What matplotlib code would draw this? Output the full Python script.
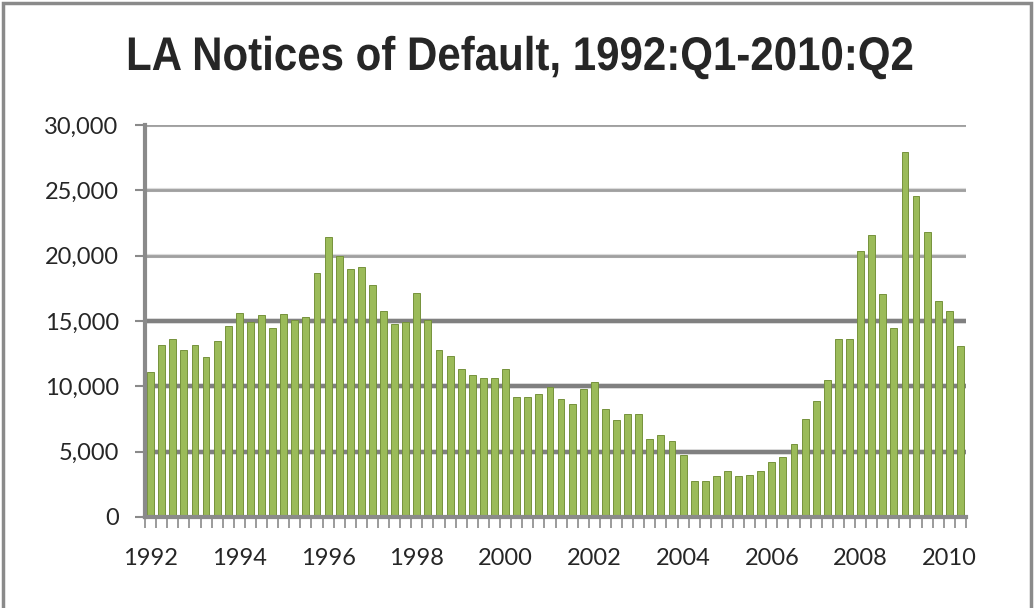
import numpy as np
import matplotlib
matplotlib.use('Agg')
import matplotlib.pyplot as plt
from matplotlib.patches import Rectangle
from matplotlib.patheffects import AbstractPathEffect
from matplotlib.transforms import Affine2D
from matplotlib.ticker import FuncFormatter, MultipleLocator

plt.rcParams['font.family'] = ['Lato', 'DejaVu Sans']

# quarterly notices of default, Los Angeles County, 1992Q1 .. 2010Q2
years = list(range(1992, 2011))
notices = [
    11100, 13150, 13650, 12800,   # 1992
    13150, 12250, 13500, 14650,   # 1993
    15650, 14950, 15450, 14500,   # 1994
    15500, 15050, 15300, 18650,   # 1995
    21400, 20000, 19000, 19150,   # 1996
    17750, 15800, 14750, 14900,   # 1997
    17150, 15100, 12750, 12300,   # 1998
    11350, 10850, 10650, 10650,   # 1999
    11350, 9150, 9150, 9400,      # 2000
    9950, 9050, 8650, 9800,       # 2001
    10300, 8250, 7450, 7850,      # 2002
    7850, 6000, 6250, 5850,       # 2003
    4750, 2750, 2750, 3150,       # 2004
    3550, 3150, 3250, 3500,       # 2005
    4200, 4600, 5600, 7500,       # 2006
    8900, 10450, 13600, 13600,    # 2007
    20350, 21550, 17050, 14450,   # 2008
    27900, 24550, 21800, 16550,   # 2009
    15800, 13050,                 # 2010
]
year_labels = [str(y) for y in years[::2]]

x = np.arange(len(notices))


class Squeeze(AbstractPathEffect):
    """narrow the glyphs horizontally around a fixed x (display px)"""
    def __init__(self, sx, cx):
        super().__init__()
        self.sx = sx
        self.cx = cx

    def draw_path(self, renderer, gc, tpath, affine, rgbFace=None):
        t = affine + Affine2D().translate(-self.cx, 0).scale(self.sx, 1).translate(self.cx, 0)
        renderer.draw_path(gc, tpath, t, rgbFace)


W, H = 1036, 608
fig = plt.figure(figsize=(W / 100, H / 100), dpi=100)
fig.patches.append(Rectangle((0.003, -0.01), 0.992, 1.005, transform=fig.transFigure,
                             fill=False, edgecolor='#8a8a8a', linewidth=2.5))

ax = fig.add_axes([0.140, 0.1497, 0.7924, 0.6447])

# gridlines drawn by hand so the lower ones can be heavier
for v in range(5000, 30001, 5000):
    c = '#808080' if v <= 15000 else '#a0a0a0'
    w = 3.0 if v <= 15000 else 2.0
    ax.axhline(v, color='#dcdcdc', lw=w + 1.0, zorder=0)
    ax.axhline(v, color=c, lw=w, zorder=1)

ax.bar(x, notices, width=0.62, color='#9bbb59', edgecolor='#76923c', linewidth=0.7, zorder=2)

ax.set_xlim(-0.5, len(notices) - 0.5)
ax.set_ylim(0, 30000)

fig.text(0.502, 1 - 70 / H, 'LA Notices of Default, 1992:Q1-2010:Q2',
         family=['Liberation Sans', 'DejaVu Sans'], fontsize=34, fontweight='bold',
         color='#262626', ha='center', va='baseline',
         path_effects=[Squeeze(0.89, 0.502 * W)])

ax.yaxis.set_major_locator(MultipleLocator(5000))
ax.yaxis.set_major_formatter(FuncFormatter(lambda v, p: f'{int(v):,}'))
ax.set_xticks(x[::8])
ax.set_xticklabels(year_labels)
ax.set_xticks(np.arange(-0.5, len(notices), 1), minor=True)

ax.tick_params(axis='y', length=7, width=1.5, color='#8a8a8a', labelsize=17, pad=12,
               labelcolor='#262626')
ax.tick_params(axis='x', which='major', length=0, labelsize=17, pad=22, labelcolor='#262626')
ax.tick_params(axis='x', which='minor', length=8, width=1.2, color='#8a8a8a')

for s in ['top', 'right']:
    ax.spines[s].set_visible(False)
for s in ['left', 'bottom']:
    ax.spines[s].set_color('#8a8a8a')
    ax.spines[s].set_linewidth(3)

fig.savefig('out.png', dpi=100)
